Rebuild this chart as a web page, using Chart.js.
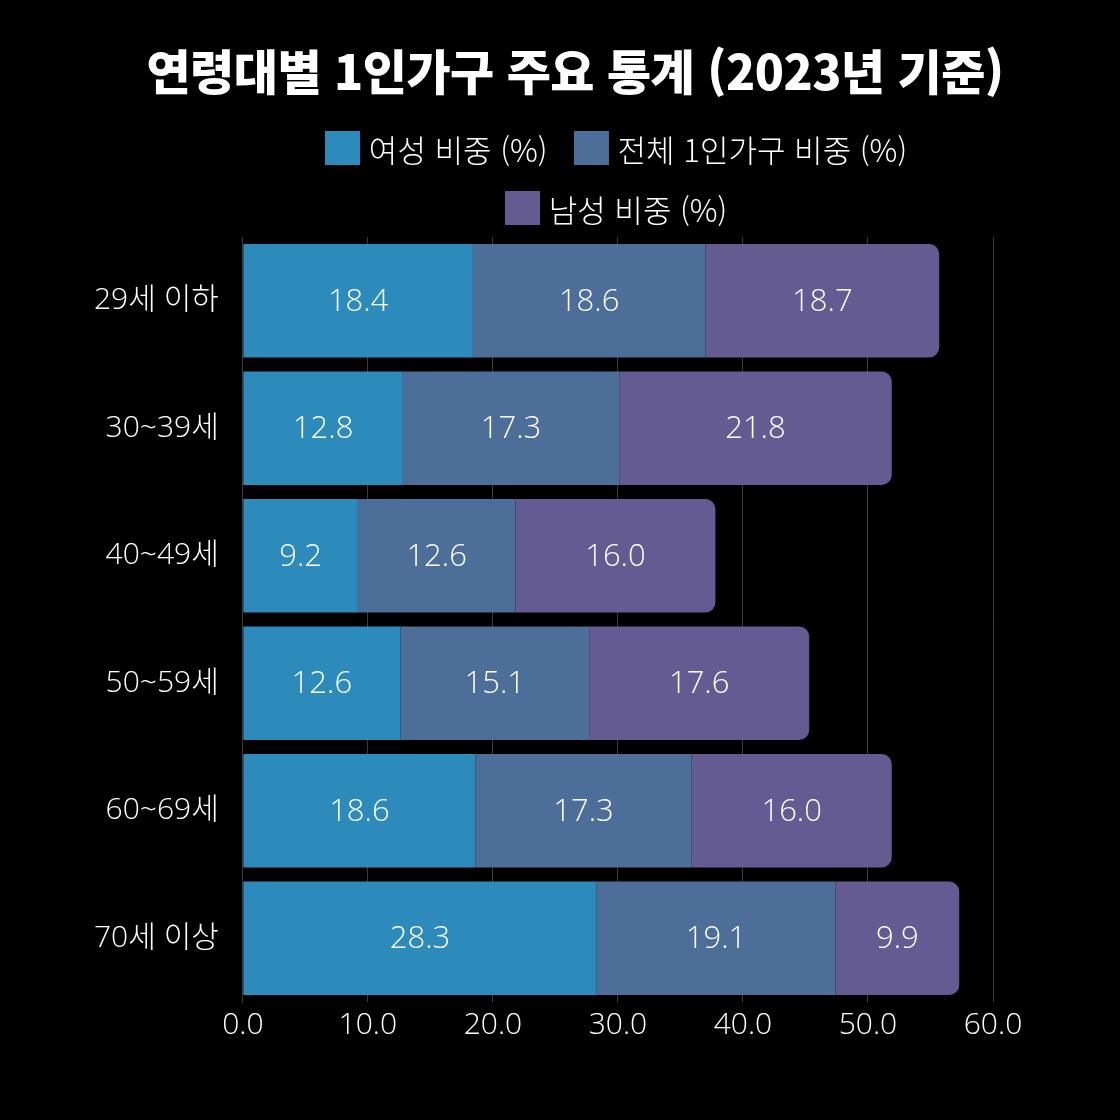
<!DOCTYPE html>
<html lang="ko">
<head>
<meta charset="utf-8">
<title>연령대별 1인가구 주요 통계</title>
<script src="https://cdn.jsdelivr.net/npm/chart.js@4.4.1/dist/chart.umd.min.js"></script>
<style>
  html, body { margin: 0; padding: 0; background: #000; }
  #wrap { position: relative; width: 1120px; height: 1120px; background: #000; overflow: hidden; }
  #chart { position: absolute; left: 0; top: 0; }
  #title {
    position: absolute; left: 0; width: 1150px; top: 37px; height: 64px; line-height: 64px;
    text-align: center; color: #fff;
    font-family: 'Noto Sans CJK KR', sans-serif; font-weight: 900; font-size: 48px; letter-spacing: -0.5px;
  }
  #legend {
    position: absolute; left: 266px; width: 700px; top: 118px;
    display: flex; flex-wrap: wrap; justify-content: center;
    list-style: none; margin: 0; padding: 0;
  }
  #legend li { display: flex; align-items: center; height: 60px; margin: 0 13px; }
  #legend .box { width: 35px; height: 34px; margin-right: 9px; }
  #legend .txt { color: #fff; font-family: 'Noto Sans CJK KR', sans-serif; font-weight: 300; font-size: 31px; }
</style>
</head>
<body>
<div id="wrap">
  <canvas id="chart" width="1120" height="1120"></canvas>
  <div id="title">연령대별 1인가구 주요 통계 (2023년 기준)</div>
  <ul id="legend"></ul>
</div>
<script>
// 연령대 (categories)
const ageGroups = ['29세 이하', '30~39세', '40~49세', '50~59세', '60~69세', '70세 이상'];

// 비중 (%) per series
const femaleShare = [18.4, 12.8, 9.2, 12.6, 18.6, 28.3];
const totalShare  = [18.6, 17.3, 12.6, 15.1, 17.3, 19.1];
const maleShare   = [18.7, 21.8, 16.0, 17.6, 16.0, 9.9];

const seriesNames = ['여성 비중 (%)', '전체 1인가구 비중 (%)', '남성 비중 (%)'];
const seriesColors = ['#2d8bbc', '#4e6e9a', '#645b93'];

const labelFont = "'Open Sans', 'Noto Sans CJK KR', sans-serif";

// value labels in the middle of each bar segment
const barValueLabels = {
  id: 'barValueLabels',
  afterDatasetsDraw(chart) {
    const ctx = chart.ctx;
    ctx.save();
    ctx.fillStyle = '#fff';
    ctx.font = '300 31px ' + labelFont;
    ctx.textAlign = 'center';
    ctx.textBaseline = 'middle';
    chart.data.datasets.forEach((ds, di) => {
      const meta = chart.getDatasetMeta(di);
      meta.data.forEach((bar, i) => {
        const p = bar.getProps(['x', 'y', 'base'], true);
        ctx.fillText(ds.data[i].toFixed(1), (p.x + p.base) / 2, p.y + 1);
      });
    });
    ctx.restore();
  }
};

const ctx = document.getElementById('chart').getContext('2d');
const chart = new Chart(ctx, {
  type: 'bar',
  data: {
    labels: ageGroups,
    datasets: [femaleShare, totalShare, maleShare].map((vals, i) => ({
      label: seriesNames[i],
      data: vals,
      backgroundColor: seriesColors[i],
      borderWidth: 0,
      borderRadius: 10,
      borderSkipped: 'start',
      barPercentage: 0.89,
      categoryPercentage: 1.0
    }))
  },
  options: {
    indexAxis: 'y',
    responsive: false,
    animation: false,
    layout: { padding: { top: 237, left: 70, right: 127, bottom: 72 } },
    plugins: {
      legend: { display: false },
      title: { display: false },
      tooltip: { enabled: false }
    },
    scales: {
      x: {
        stacked: true,
        min: 0,
        max: 60,
        ticks: {
          stepSize: 10,
          color: '#fff',
          padding: 5,
          font: { family: labelFont, size: 30, weight: 300 },
          callback: v => v.toFixed(1)
        },
        grid: { color: '#3c3c3c', lineWidth: 1, drawTicks: false },
        border: { display: false }
      },
      y: {
        stacked: true,
        ticks: {
          color: '#fff',
          padding: 24,
          font: { family: labelFont, size: 30, weight: 300 }
        },
        grid: { display: false, drawTicks: false },
        border: { display: true, color: '#3c3c3c' }
      }
    }
  },
  plugins: [barValueLabels]
});

// custom legend, two items on the first row and one below
document.getElementById('legend').innerHTML = chart.data.datasets.map(ds =>
  `<li><span class="box" style="background:${ds.backgroundColor}"></span><span class="txt">${ds.label}</span></li>`
).join('');
</script>
</body>
</html>
